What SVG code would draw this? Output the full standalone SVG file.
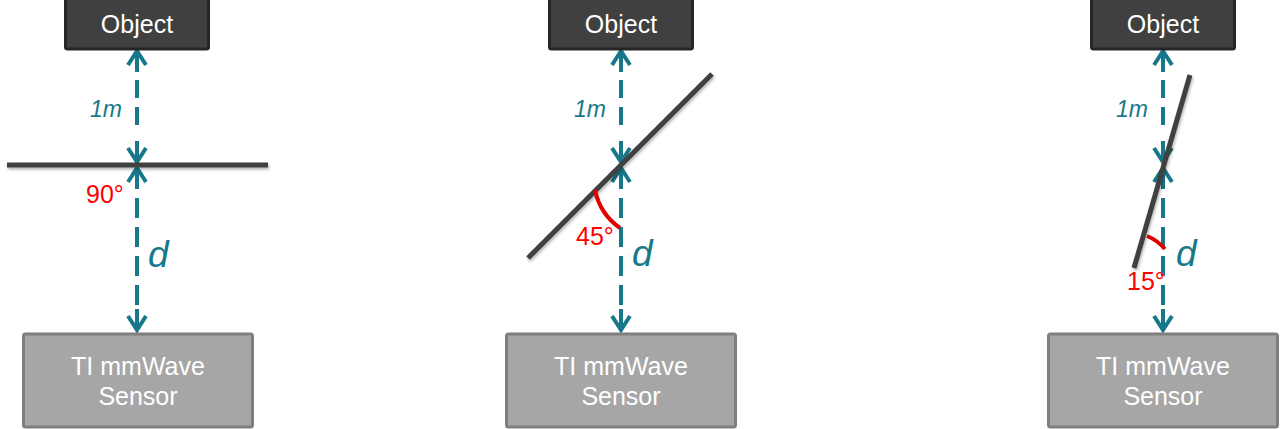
<svg xmlns="http://www.w3.org/2000/svg" width="1280" height="429" viewBox="0 0 1280 429">
<style>
.obj rect{fill:#404040;stroke:#262626;stroke-width:3}
.obj text{fill:#fff;font-family:"Liberation Sans",Arial,sans-serif;font-size:25px;text-anchor:middle}
.sen rect{fill:#A6A6A6;stroke:#7F7F7F;stroke-width:3}
.sen text{fill:#fff;font-family:"Liberation Sans",Arial,sans-serif;font-size:25px;text-anchor:middle}
.dash{stroke:#17788A;stroke-width:4;fill:none}
.d1{stroke-dasharray:18 9}
.d2{stroke-dasharray:20 9}
.head{stroke:#17788A;stroke-width:4;fill:none;stroke-linejoin:miter}
.plate{stroke:#404040;stroke-width:5;stroke-linecap:butt;filter:url(#sh)}
.ang{stroke:#E00000;stroke-width:4;fill:none}
.lbl{fill:#17788A;font-family:"Liberation Sans",Arial,sans-serif;font-style:italic}
.deg{fill:#FF0000;font-family:"Liberation Sans",Arial,sans-serif;font-size:25px}
</style>
<defs>
<filter id="sh" filterUnits="userSpaceOnUse" x="0" y="0" width="1280" height="429">
<feDropShadow dx="1" dy="2" stdDeviation="1.5" flood-color="#000" flood-opacity="0.3"/>
</filter>
<path id="up" class="head" d="M-9,15 L0,1 L9,15 M0,1 V22"/>
<path id="dn" class="head" d="M-9,-15 L0,-1 L9,-15 M0,-1 V-22"/>
</defs>
<g id="connectors">
<line class="dash d1" x1="137" y1="80" x2="137" y2="133"/>
<line class="dash d2" x1="137" y1="198" x2="137" y2="305"/>
<line class="dash d1" x1="621" y1="80" x2="621" y2="133"/>
<line class="dash d2" x1="621" y1="198" x2="621" y2="305"/>
<line class="dash d1" x1="1163" y1="80" x2="1163" y2="133"/>
<line class="dash d2" x1="1163" y1="198" x2="1163" y2="305"/>
<use href="#up" x="137" y="50"/><use href="#dn" x="137" y="163"/>
<use href="#up" x="137" y="167"/><use href="#dn" x="137" y="331"/>
<use href="#up" x="621" y="50"/><use href="#dn" x="621" y="163"/>
<use href="#up" x="621" y="167"/><use href="#dn" x="621" y="331"/>
<use href="#up" x="1163" y="50"/><use href="#dn" x="1163" y="163"/>
<use href="#up" x="1163" y="167"/><use href="#dn" x="1163" y="331"/>
</g>
<g id="plate1"><line class="plate" x1="7" y1="165" x2="268" y2="165"/></g>
<g id="plate2"><line class="plate" x1="528" y1="258" x2="712" y2="74"/></g>
<g id="plate3"><line class="plate" x1="1134" y1="268" x2="1190" y2="75"/></g>
<g id="obj1" class="obj"><rect x="65.5" y="-2" width="143" height="51" rx="2"/><text x="137" y="33">Object</text></g>
<g id="obj2" class="obj"><rect x="549.5" y="-2" width="143" height="51" rx="2"/><text x="621" y="33">Object</text></g>
<g id="obj3" class="obj"><rect x="1091.5" y="-2" width="143" height="51" rx="2"/><text x="1163" y="33">Object</text></g>
<g id="sen1" class="sen"><rect x="23.5" y="334" width="229" height="93" rx="2"/><text x="138" y="375">TI mmWave</text><text x="138" y="405">Sensor</text></g>
<g id="sen2" class="sen"><rect x="506.5" y="334" width="229" height="93" rx="2"/><text x="621" y="375">TI mmWave</text><text x="621" y="405">Sensor</text></g>
<g id="sen3" class="sen"><rect x="1048.5" y="334" width="229" height="93" rx="2"/><text x="1163" y="375">TI mmWave</text><text x="1163" y="405">Sensor</text></g>
<g id="labels">
<text class="lbl" x="90" y="117" font-size="23">1m</text>
<text class="lbl" x="574" y="117" font-size="23">1m</text>
<text class="lbl" x="1116" y="117" font-size="23">1m</text>
<text class="lbl" x="148" y="267" font-size="37">d</text>
<text class="lbl" x="632" y="266" font-size="37">d</text>
<text class="lbl" x="1176" y="266" font-size="37">d</text>
<text class="deg" x="86" y="203">90°</text>
<text class="deg" x="576" y="245">45°</text>
<text class="deg" x="1127" y="290">15°</text>
</g>
<g id="angles">
<path class="ang" d="M595,190 Q600,214 620,228"/>
<path class="ang" d="M1147,236 Q1157,240 1165,249"/>
</g>
</svg>
